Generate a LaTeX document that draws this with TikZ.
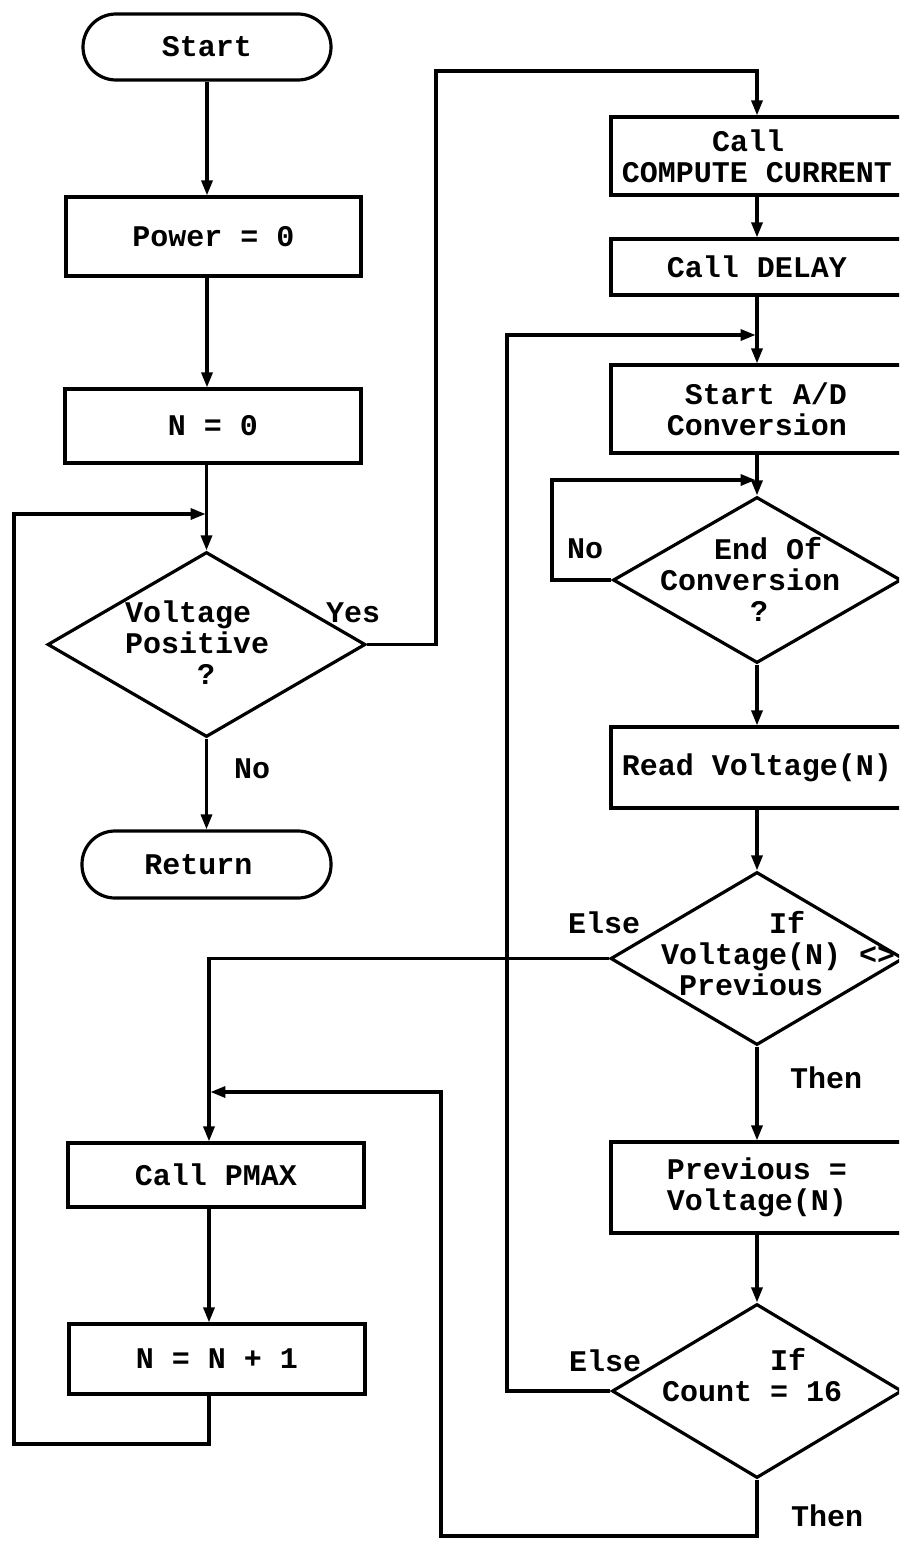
\documentclass[tikz,border=0pt]{standalone}
\usepackage{fontspec}
\setmainfont{Liberation Mono}
\usetikzlibrary{arrows.meta,shapes.geometric}
\begin{document}
\begin{tikzpicture}[x=1pt,y=-1pt,
  font=\fontsize{30}{31}\selectfont\bfseries,
  procbox/.style={draw, rectangle, line width=3.2pt, inner sep=0pt},
  termbox/.style={draw, rectangle, rounded corners=33pt, line width=3.2pt, inner sep=0pt},
  decbox/.style={draw, shape=diamond, line width=3.2pt, inner sep=0pt},
  lbl/.style={inner sep=0pt},
  conn/.style={line width=3.2pt, -{Triangle[length=15pt,width=11pt]}},
  jconn/.style={conn, shorten >=1.4pt}]
\fill[white] (0,0) rectangle (899,1541);
\useasboundingbox (0,0) rectangle (899,1541);
\clip (0,0) rectangle (899,1541);

% left column
\node[termbox, minimum width=248pt, minimum height=66pt] (start) at (207,47) {Start};
\node[procbox, minimum width=295pt, minimum height=79pt] (power) at (213.5,236.5) {Power = 0};
\node[procbox, minimum width=296pt, minimum height=74pt] (n0) at (213,426) {N = 0};
\node[decbox, minimum width=318pt, minimum height=185pt] (d1) at (206.5,644.5) {};
\node[termbox, minimum width=249pt, minimum height=67pt] (ret) at (206.5,864.5) {Return\hspace*{16pt}};
\node[procbox, minimum width=296pt, minimum height=64pt] (pmax) at (216,1175) {Call PMAX};
\node[procbox, minimum width=296pt, minimum height=70pt] (ninc) at (217,1359) {N = N + 1};

% right column
\node[procbox, minimum width=292pt, minimum height=78pt, align=left] (cc) at (757,156) {\hphantom{00000}Call\\COMPUTE CURRENT};
\node[procbox, minimum width=292pt, minimum height=56pt] (delay) at (757,267) {Call DELAY};
\node[procbox, minimum width=292pt, minimum height=88pt, align=right] (sad) at (757,409) {Start A/D\\Conversion};
\node[decbox, minimum width=288pt, minimum height=166pt] (eoc) at (757,580) {};
\node[procbox, minimum width=292pt, minimum height=81pt] (read) at (757,767.5) {Read Voltage(N)};
\node[decbox, minimum width=293pt, minimum height=173pt] (d2) at (757,958.5) {};
\node[procbox, minimum width=292pt, minimum height=91pt, align=center] (prev) at (757,1187.5) {Previous =\\Voltage(N)};
\node[decbox, minimum width=290pt, minimum height=174pt] (cnt) at (757,1391) {};

% diamond texts
\node[lbl, anchor=west, align=left] (d1t) at (125,643) {Voltage\\Positive\\\hphantom{0000}?};
\node[lbl, anchor=west, align=left] (eoct) at (660,579) {\hphantom{000}End Of\\Conversion\\\hphantom{00000}?};
\node[lbl, anchor=west, align=left] (d2t) at (661,954) {\hphantom{000000}If\\Voltage(N) <>\\\hphantom{0}Previous};
\node[lbl, anchor=west, align=left] (cntt) at (662,1375) {\hphantom{000000}If\\Count = 16};

% branch labels
\node[lbl, anchor=base] (yes) at (353,622) {Yes};
\node[lbl, anchor=base] (no1) at (252,778) {No};
\node[lbl, anchor=base] (no2) at (585,558) {No};
\node[lbl, anchor=base] (else1) at (604,933) {Else};
\node[lbl, anchor=base] (then1) at (826,1088) {Then};
\node[lbl, anchor=base] (else2) at (605,1371) {Else};
\node[lbl, anchor=base] (then2) at (827,1526) {Then};

% helper coordinates
\coordinate (yc) at (436,71);
\coordinate (j1) at (207,514);
\coordinate (lb) at (14,1444);
\coordinate (jl) at (209,1092);
\coordinate (rb) at (441,1536);
\coordinate (elx) at (507,335);
\coordinate (j2) at (757,335);
\coordinate (nlx) at (552,480);
\coordinate (j3) at (757,480);

% left connectors
\draw[conn] (start.south) -- (start.south |- power.north);
\draw[conn] (start.south |- power.south) -- (start.south |- n0.north);
\draw[conn] (d1.north |- n0.south) -- (d1.north);
\draw[conn] (d1.south) -- (ret.north);
\draw[conn] (d2.west) -| (jl) -- (jl |- pmax.north);
\draw[conn] (jl |- pmax.south) -- (jl |- ninc.north);
\draw[jconn] (jl |- ninc.south) -- (jl |- lb) -- (lb) |- (j1);
\draw[jconn] (cnt.south) -- (cnt.south |- rb) -- (rb) |- (jl);

% right connectors
\draw[conn] (d1.east) -| (yc) -| (cc.north);
\draw[conn] (cc.south) -- (delay.north);
\draw[conn] (delay.south) -- (sad.north);
\draw[jconn] (cnt.west) -| (elx) -- (j2);
\draw[conn] (sad.south) -- (eoc.north);
\draw[jconn] (eoc.west) -| (nlx) -- (j3);
\draw[conn] (eoc.south) -- (read.north);
\draw[conn] (read.south) -- (d2.north);
\draw[conn] (d2.south) -- (prev.north);
\draw[conn] (prev.south) -- (cnt.north);
\end{tikzpicture}
\end{document}
